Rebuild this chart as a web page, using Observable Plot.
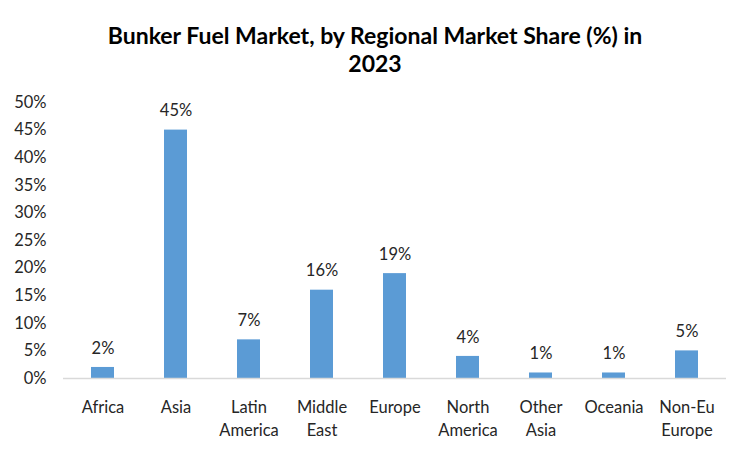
<!DOCTYPE html>
<html>
<head>
<meta charset="utf-8">
<script src="https://cdn.jsdelivr.net/npm/d3@7"></script>
<script src="https://cdn.jsdelivr.net/npm/@observablehq/plot@0.6"></script>
<style>
  html, body { margin: 0; padding: 0; background: #fff; }
  body { width: 750px; height: 450px; overflow: hidden; font-family: Lato, "Open Sans", sans-serif; }
  #title { text-align: center; font-weight: bold; font-size: 23px; line-height: 28px; padding-top: 21px; height: 56px; color: #000; }
  svg { display: block; }
</style>
</head>
<body>
<div id="title">Bunker Fuel Market, by Regional Market Share (%) in<br>2023</div>
<div id="chart"></div>
<script>
const categories = ["Africa", "Asia", "Latin America", "Middle East", "Europe", "North America", "Other Asia", "Oceania", "Non-Eu Europe"];
const axisLabels = ["Africa", "Asia", "Latin\nAmerica", "Middle\nEast", "Europe", "North\nAmerica", "Other\nAsia", "Oceania", "Non-Eu\nEurope"];
const shares = [2, 45, 7, 16, 19, 4, 1, 1, 5];
const yTicks = [0, 5, 10, 15, 20, 25, 30, 35, 40, 45, 50];

const data = categories.map((c, i) => ({ region: c, share: shares[i] }));
const labelOf = new Map(categories.map((c, i) => [c, axisLabels[i]]));

const textColor = "#262626";

const chart = Plot.plot({
  width: 750,
  height: 373,
  marginTop: 25,
  marginBottom: 72,
  marginLeft: 63,
  marginRight: 24,
  style: { fontFamily: "Lato, 'Open Sans', sans-serif", fontSize: "16.5px", color: textColor, background: "#fff" },
  x: { domain: categories, paddingInner: 0.69, paddingOuter: 0.345, label: null },
  y: { domain: [0, 50], label: null },
  marks: [
    Plot.axisY({ ticks: yTicks, tickFormat: d => d + "%", tickSize: 0, tickPadding: 17, fontSize: 16.5, fill: textColor, label: null }),
    Plot.axisX({ tickFormat: d => labelOf.get(d), tickSize: 0, tickPadding: 18, fontSize: 16.5, fill: textColor, lineHeight: 1.4, label: null }),
    Plot.barY(data, { x: "region", y: "share", fill: "#5B9BD5" }),
    Plot.ruleY([0], { stroke: "#D9D9D9", strokeWidth: 1.3 }),
    Plot.text(data, { x: "region", y: "share", text: d => d.share + "%", dy: -19, lineAnchor: "middle", fontSize: 16.5, fill: textColor })
  ]
});
document.getElementById("chart").appendChild(chart);
</script>
</body>
</html>
